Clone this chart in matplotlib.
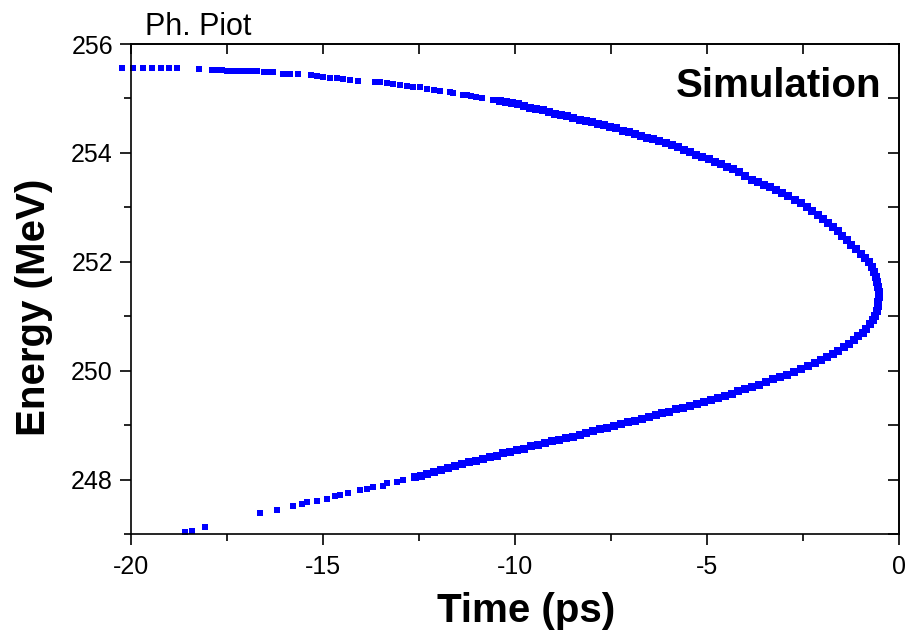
import matplotlib
matplotlib.use("Agg")
import matplotlib.pyplot as plt
from matplotlib.ticker import MultipleLocator

plt.rcParams['font.family'] = ['Liberation Sans', 'DejaVu Sans']
plt.rcParams['axes.unicode_minus'] = False

# time (ps) and energy (MeV) of the simulated particles
# upper branch, sparse head
t_head = [-20.24, -19.94, -19.68, -19.45, -19.22, -19.01, -18.79, -18.24,
          -17.89, -17.76, -17.63, -17.50, -17.37, -17.24, -17.11, -16.98, -16.85, -16.72,
          -16.54, -16.38, -16.30, -16.04, -15.91, -15.86, -15.65,
          -15.31, -15.16, -15.00, -14.82, -14.64, -14.48, -14.30, -14.09,
          -13.65, -13.52, -13.33, -13.18, -13.00, -12.81, -12.66, -12.47,
          -12.30, -12.12, -11.95,
          -11.69, -11.61, -11.35, -11.25, -11.15, -11.02, -10.86, -10.57]
e_head = [255.565, 255.565, 255.565, 255.565, 255.565, 255.565, 255.565, 255.54,
          255.52, 255.52, 255.52, 255.51, 255.51, 255.51, 255.50, 255.50, 255.50, 255.50,
          255.48, 255.48, 255.48, 255.455, 255.455, 255.455, 255.455,
          255.43, 255.41, 255.39, 255.38, 255.37, 255.35, 255.34, 255.33,
          255.31, 255.30, 255.28, 255.27, 255.25, 255.23, 255.22, 255.21,
          255.18, 255.16, 255.14,
          255.11, 255.10, 255.07, 255.06, 255.05, 255.03, 255.01, 254.97]

# upper branch, dense part up to the turning point
t_upper = [-10.40, -10.24, -10.08, -9.92, -9.76, -9.60, -9.44, -9.28, -9.12, -8.96,
           -8.80, -8.64, -8.48, -8.32, -8.16, -8.00, -7.84, -7.68, -7.52, -7.36,
           -7.20, -7.04, -6.88, -6.72, -6.56, -6.40, -6.24, -6.08, -5.92, -5.76,
           -5.60, -5.44, -5.28, -5.12, -4.96, -4.80, -4.64, -4.48, -4.32, -4.16,
           -4.00, -3.84, -3.68, -3.52, -3.36, -3.20, -3.04, -2.88, -2.72, -2.56,
           -2.40, -2.26, -2.12, -1.98, -1.85, -1.72, -1.60, -1.48, -1.36, -1.24,
           -1.12, -1.00, -0.89, -0.78, -0.70, -0.64, -0.59, -0.56, -0.54, -0.53,
           -0.53]
e_upper = [254.95, 254.93, 254.91, 254.89, 254.86, 254.83, 254.81, 254.78, 254.75, 254.72,
           254.69, 254.67, 254.64, 254.61, 254.59, 254.56, 254.54, 254.51, 254.48, 254.45,
           254.41, 254.38, 254.35, 254.32, 254.28, 254.25, 254.21, 254.18, 254.14, 254.10,
           254.06, 254.01, 253.97, 253.92, 253.88, 253.83, 253.79, 253.74, 253.70, 253.65,
           253.58, 253.51, 253.47, 253.42, 253.37, 253.32, 253.27, 253.21, 253.14, 253.08,
           253.01, 252.94, 252.86, 252.79, 252.71, 252.64, 252.56, 252.48, 252.40, 252.31,
           252.23, 252.15, 252.07, 251.99, 251.90, 251.81, 251.72, 251.63, 251.54, 251.45,
           251.36]

# lower branch, dense part
t_lower = [-0.54, -0.55, -0.57, -0.62, -0.68, -0.76, -0.85, -0.95, -1.06, -1.18,
           -1.30, -1.44, -1.58, -1.72, -1.88, -2.04, -2.20, -2.38, -2.56, -2.74,
           -2.92, -3.10, -3.28, -3.46, -3.64, -3.82, -4.00, -4.18, -4.36, -4.54,
           -4.72, -4.90, -5.08, -5.26, -5.44, -5.62, -5.80, -5.98, -6.16, -6.34,
           -6.52, -6.70, -6.88, -7.06, -7.24, -7.42, -7.60, -7.78, -7.96, -8.14,
           -8.32, -8.50, -8.68, -8.86, -9.04, -9.22, -9.40, -9.58, -9.76, -9.94,
           -10.12, -10.30, -10.48, -10.66, -10.84, -11.02, -11.20, -11.38, -11.56, -11.74,
           -11.92, -12.10, -12.28, -12.46, -12.60]
e_lower = [251.27, 251.18, 251.10, 251.01, 250.93, 250.85, 250.77, 250.70, 250.63, 250.56,
           250.49, 250.43, 250.37, 250.31, 250.25, 250.20, 250.14, 250.08, 250.03, 249.98,
           249.93, 249.88, 249.84, 249.79, 249.74, 249.70, 249.66, 249.62, 249.58, 249.54,
           249.50, 249.46, 249.43, 249.39, 249.36, 249.32, 249.29, 249.25, 249.22, 249.18,
           249.15, 249.11, 249.08, 249.05, 249.02, 248.99, 248.95, 248.92, 248.89, 248.86,
           248.82, 248.79, 248.76, 248.73, 248.70, 248.67, 248.64, 248.61, 248.57, 248.54,
           248.51, 248.48, 248.44, 248.41, 248.38, 248.35, 248.32, 248.29, 248.25, 248.22,
           248.18, 248.14, 248.10, 248.07, 248.04]

# lower branch, sparse tail
t_tail = [-12.92, -13.07, -13.33, -13.44, -13.70, -13.85, -14.04, -14.35, -14.56, -14.69,
          -14.90, -15.16, -15.42, -15.55, -15.78, -16.20, -16.64, -18.07, -18.41, -18.59]
e_tail = [248.00, 247.96, 247.93, 247.89, 247.87, 247.83, 247.80, 247.76, 247.71, 247.69,
          247.65, 247.61, 247.58, 247.56, 247.52, 247.45, 247.38, 247.12, 247.05, 247.03]

fig = plt.figure(figsize=(9.09, 6.31), dpi=100)
ax = fig.add_axes([0.1441, 0.1537, 0.8449, 0.7765])

# sparse ends: single small squares
ax.plot(t_head + t_tail, e_head + e_tail, 's', color='#0000ff', markersize=3.9,
        markeredgewidth=0, clip_on=False)
# dense core: overlapping squares give a thick band
ax.plot(t_upper + t_lower, e_upper + e_lower, 's', color='#0000ff', markersize=5.7,
        markeredgewidth=0, clip_on=False)

ax.set_xlim(-20, 0)
ax.set_ylim(247, 256)
ax.xaxis.set_major_locator(MultipleLocator(5))
ax.xaxis.set_minor_locator(MultipleLocator(2.5))
ax.yaxis.set_major_locator(MultipleLocator(2))
ax.yaxis.set_minor_locator(MultipleLocator(1))

for s in ax.spines.values():
    s.set_linewidth(1.2)

ax.tick_params(which='both', direction='out', width=1.2, labelsize=18,
               top=False, right=False)
ax.tick_params(which='major', length=8)
ax.tick_params(which='minor', length=5)
ax.tick_params(axis='x', pad=7)
ax.tick_params(axis='y', pad=5)

# inward ticks on top and right, no labels
top = ax.secondary_xaxis('top')
top.xaxis.set_major_locator(MultipleLocator(5))
top.xaxis.set_minor_locator(MultipleLocator(2.5))
top.tick_params(which='both', direction='in', length=7, width=1.2, labeltop=False)
top.spines['top'].set_linewidth(1.2)
right = ax.secondary_yaxis('right')
right.yaxis.set_major_locator(MultipleLocator(2))
right.yaxis.set_minor_locator(MultipleLocator(1))
right.tick_params(which='both', direction='in', length=8, width=1.2, labelright=False)
right.spines['right'].set_linewidth(1.2)

ax.set_xlabel('Time (ps)', fontsize=29, fontweight='bold')
ax.set_ylabel('Energy (MeV)', fontsize=29, fontweight='bold')
ax.xaxis.set_label_coords(0.514, -0.118)
ax.yaxis.set_label_coords(-0.102, 0.463)

ax.text(0.977, 0.892, 'Simulation', transform=ax.transAxes, ha='right',
        va='baseline', fontsize=29, fontweight='bold')
fig.text(145 / 909, 1 - 35 / 631, 'Ph. Piot', ha='left', va='baseline', fontsize=22)

fig.savefig('out.png', dpi=100)
